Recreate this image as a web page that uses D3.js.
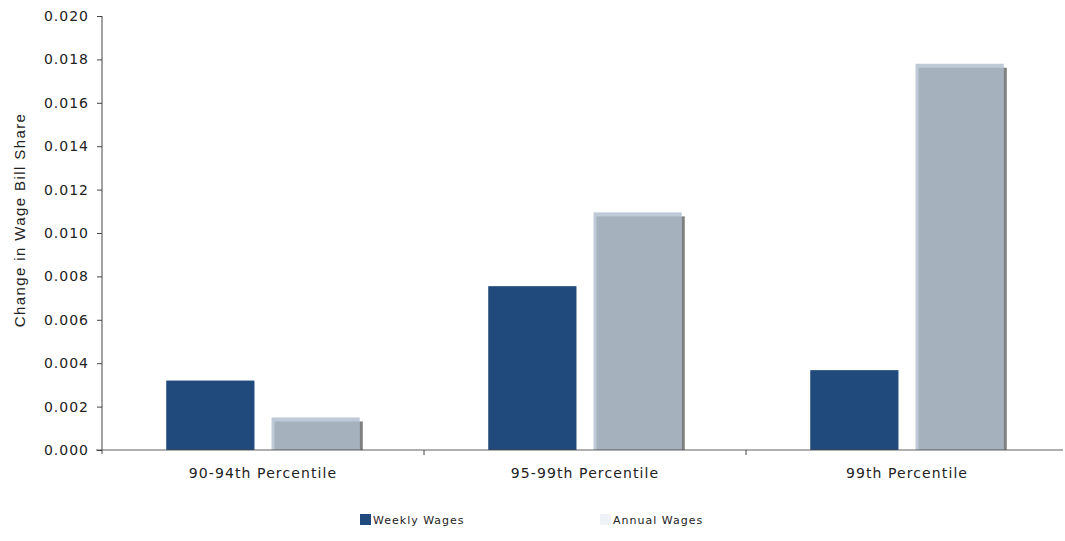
<!DOCTYPE html>
<html>
<head>
<meta charset="utf-8">
<script src="https://cdn.jsdelivr.net/npm/d3@7"></script>
<style>
  html, body { margin: 0; padding: 0; background: #fff; }
  svg { display: block; }
  .tick text { font-family: "DejaVu Sans", Verdana, sans-serif; fill: #222; letter-spacing: 1px; }
</style>
</head>
<body>
<svg id="chart" width="1065" height="541"></svg>
<script>
// Wage bill share changes by top percentile group
const categories = ["90-94th Percentile", "95-99th Percentile", "99th Percentile"];
const seriesNames = ["Weekly Wages", "Annual Wages"];
const weeklyWages = [0.0032, 0.00755, 0.00368];
const annualWages = [0.0015, 0.01095, 0.0178];
const yTicks = [0, 0.002, 0.004, 0.006, 0.008, 0.010, 0.012, 0.014, 0.016, 0.018, 0.020];

const svg = d3.select("#chart");
const plotLeft = 102, plotRight = 1068, plotTop = 16, plotBottom = 450;

const x0 = d3.scaleBand().domain(categories).range([plotLeft, plotRight]).paddingInner(0).paddingOuter(0);
const x1 = d3.scaleBand().domain(seriesNames).range([0, x0.bandwidth()]).paddingInner(0.162).paddingOuter(0.61);
const y = d3.scaleLinear().domain([0, 0.02]).range([plotBottom, plotTop]);

const colWeekly = "#214a7c";
const colAnnual = "#a6b1be";
const colAnnualLight = "#bfcad8";
const colShadow = "#7f7f7f";
const bw = x1.bandwidth();

// Weekly bars: flat fill
svg.append("g").selectAll("rect")
  .data(categories.map((c, i) => ({ c, v: weeklyWages[i] })))
  .join("rect")
  .attr("x", d => x0(d.c) + x1("Weekly Wages"))
  .attr("y", d => y(d.v))
  .attr("width", bw)
  .attr("height", d => y(0) - y(d.v))
  .attr("fill", colWeekly);

// Annual bars: bevelled with a light edge and a right-hand shadow
const ann = svg.append("g").selectAll("g")
  .data(categories.map((c, i) => ({ c, v: annualWages[i] })))
  .join("g")
  .attr("transform", d => `translate(${x0(d.c) + x1("Annual Wages")},0)`);

ann.append("rect")
  .attr("x", 0).attr("y", d => y(d.v))
  .attr("width", bw).attr("height", d => y(0) - y(d.v))
  .attr("fill", colAnnualLight);
ann.append("rect")
  .attr("x", 3).attr("y", d => y(d.v) + 4)
  .attr("width", bw - 3).attr("height", d => Math.max(0, y(0) - y(d.v) - 4))
  .attr("fill", colAnnual);
ann.append("rect")
  .attr("x", bw).attr("y", d => y(d.v) + 4)
  .attr("width", 3).attr("height", d => Math.max(0, y(0) - y(d.v) - 4))
  .attr("fill", colShadow);

// Y axis
const yAxis = svg.append("g")
  .attr("transform", `translate(${plotLeft},0)`)
  .call(d3.axisLeft(y).tickValues(yTicks).tickFormat(d3.format(".3f")).tickSize(5).tickPadding(8));
yAxis.select(".domain").attr("stroke", "#444").attr("d", `M0,${plotTop}V${plotBottom + 4}`);
yAxis.selectAll(".tick line").attr("stroke", "#444");
yAxis.selectAll(".tick text").attr("font-size", 14);

// X axis with ticks between groups
const xAxis = svg.append("g").attr("transform", `translate(0,${plotBottom})`);
xAxis.append("line")
  .attr("x1", 96).attr("x2", 1063).attr("y1", 0).attr("y2", 0)
  .attr("stroke", "#444").attr("stroke-opacity", 0.85);
xAxis.selectAll("line.sep")
  .data(categories.slice(1))
  .join("line")
  .attr("class", "sep")
  .attr("x1", d => x0(d)).attr("x2", d => x0(d))
  .attr("y1", 0).attr("y2", 5)
  .attr("stroke", "#444");
xAxis.selectAll("text")
  .data(categories)
  .join("text")
  .attr("x", d => x0(d) + x0.bandwidth() / 2)
  .attr("y", 28)
  .attr("text-anchor", "middle")
  .attr("font-family", "DejaVu Sans, Verdana, sans-serif")
  .attr("font-size", 14)
  .attr("letter-spacing", "1.1px")
  .attr("fill", "#222")
  .text(d => d);

// Y axis title
svg.append("text")
  .attr("transform", `translate(25,${(113 + 327) / 2}) rotate(-90)`)
  .attr("text-anchor", "middle")
  .attr("font-family", "Liberation Sans, Arial, sans-serif")
  .attr("font-size", 15)
  .attr("letter-spacing", "1.4px")
  .attr("fill", "#222")
  .text("Change in Wage Bill Share");

// Legend
const legend = svg.append("g");
const legendItems = [
  { name: seriesNames[0], color: colWeekly, x: 360 },
  { name: seriesNames[1], color: "#eff2f6", x: 600 }
];
const li = legend.selectAll("g").data(legendItems).join("g")
  .attr("transform", d => `translate(${d.x},514)`);
li.append("rect").attr("width", 11).attr("height", 11).attr("fill", d => d.color);
li.append("text")
  .attr("x", 13).attr("y", 10)
  .attr("font-family", "DejaVu Sans, Verdana, sans-serif")
  .attr("font-size", 11)
  .attr("letter-spacing", "1px")
  .attr("fill", "#222")
  .text(d => d.name);
</script>
</body>
</html>
